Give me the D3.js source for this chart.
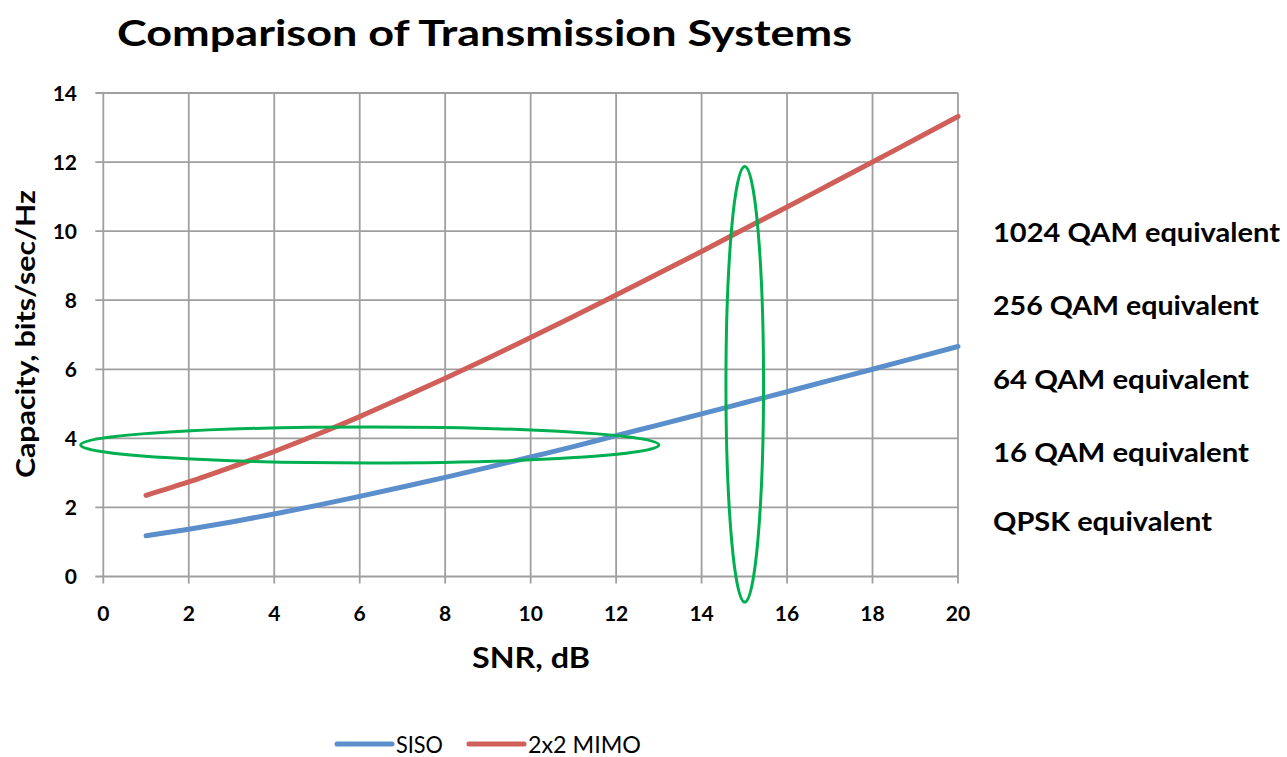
<!DOCTYPE html>
<html>
<head>
<meta charset="utf-8">
<script src="https://cdn.jsdelivr.net/npm/d3@7"></script>
<style>
  html, body { margin: 0; padding: 0; background: #fff; }
  svg { display: block; font-family: Lato, "Open Sans", sans-serif; }
</style>
</head>
<body>
<div id="chart"></div>
<script>
// values
var snr = [1, 2, 3, 4, 5, 6, 7, 8, 9, 10, 11, 12, 13, 14, 15, 16, 17, 18, 19, 20];
var siso = [1.18, 1.37, 1.58, 1.81, 2.06, 2.32, 2.59, 2.87, 3.16, 3.46, 3.76, 4.08, 4.39, 4.71, 5.03, 5.35, 5.68, 6.00, 6.33, 6.66];
var mimo = [2.35, 2.74, 3.17, 3.62, 4.11, 4.63, 5.18, 5.74, 6.32, 6.92, 7.53, 8.15, 8.78, 9.41, 10.06, 10.70, 11.35, 12.00, 12.66, 13.32];
var xTicks = [0, 2, 4, 6, 8, 10, 12, 14, 16, 18, 20];
var yTicks = [0, 2, 4, 6, 8, 10, 12, 14];
var seriesNames = ["SISO", "2x2 MIMO"];
var qamLabels = ["1024 QAM equivalent", "256 QAM equivalent", "64 QAM equivalent", "16 QAM equivalent", "QPSK equivalent"];
// highlighted regions (snr from/to, capacity from/to)
var rings = [
  { snr: [-0.53, 13.0], cap: [3.29, 4.33] },
  { snr: [14.57, 15.45], cap: [-0.74, 11.87] }
];

(function(){
  var W = 1287, H = 757;
  var colors = ["#5b8fcb", "#cf5f58"];
  var plot = { left: 103.3, right: 958, top: 93, bottom: 576.5 };

  var svg = d3.select("#chart").append("svg").attr("width", W).attr("height", H);

  var x = d3.scaleLinear().domain([0, 20]).range([plot.left, plot.right]);
  var y = d3.scaleLinear().domain([0, 14]).range([plot.bottom, plot.top]);

  // grid
  svg.append("g").selectAll("line").data(xTicks).enter().append("line")
    .attr("x1", function(d){ return x(d); }).attr("x2", function(d){ return x(d); })
    .attr("y1", plot.top).attr("y2", plot.bottom + 7)
    .attr("stroke", "#9f9f9f").attr("stroke-width", 1.8);
  svg.append("g").selectAll("line").data(yTicks).enter().append("line")
    .attr("x1", plot.left - 8).attr("x2", plot.right)
    .attr("y1", function(d){ return y(d); }).attr("y2", function(d){ return y(d); })
    .attr("stroke", "#9f9f9f").attr("stroke-width", 1.8);

  // tick labels
  svg.append("g").selectAll("text").data(yTicks).enter().append("text")
    .attr("x", 77).attr("y", function(d){ return y(d) + 7.5; })
    .attr("text-anchor", "end").attr("font-size", 21).attr("font-weight", "bold")
    .text(function(d){ return d; });
  svg.append("g").selectAll("text").data(xTicks).enter().append("text")
    .attr("x", function(d){ return x(d); }).attr("y", 620.5)
    .attr("text-anchor", "middle").attr("font-size", 21).attr("font-weight", "bold")
    .text(function(d){ return d; });

  // series
  var line = d3.line().curve(d3.curveMonotoneX)
    .x(function(d){ return x(d[0]); }).y(function(d){ return y(d[1]); });
  [siso, mimo].forEach(function(vals, i){
    svg.append("path").datum(d3.zip(snr, vals))
      .attr("d", line).attr("fill", "none")
      .attr("stroke", colors[i]).attr("stroke-width", 5)
      .attr("stroke-linecap", "round").attr("stroke-linejoin", "round");
  });

  // green rings
  svg.append("g").selectAll("ellipse").data(rings).enter().append("ellipse")
    .attr("cx", function(d){ return (x(d.snr[0]) + x(d.snr[1])) / 2; })
    .attr("cy", function(d){ return (y(d.cap[0]) + y(d.cap[1])) / 2; })
    .attr("rx", function(d){ return Math.abs(x(d.snr[1]) - x(d.snr[0])) / 2; })
    .attr("ry", function(d){ return Math.abs(y(d.cap[1]) - y(d.cap[0])) / 2; })
    .attr("fill", "none").attr("stroke", "#00b050").attr("stroke-width", 3);

  // title and axis titles
  svg.append("text").attr("x", 117).attr("y", 46)
    .attr("font-size", 37).attr("font-weight", "bold")
    .attr("textLength", 735).attr("lengthAdjust", "spacingAndGlyphs")
    .text("Comparison of Transmission Systems");
  svg.append("text").attr("x", 531).attr("y", 668)
    .attr("text-anchor", "middle").attr("font-size", 28).attr("font-weight", "bold")
    .attr("textLength", 118).attr("lengthAdjust", "spacingAndGlyphs")
    .text("SNR, dB");
  svg.append("text").attr("transform", "translate(35,334) rotate(-90)")
    .attr("text-anchor", "middle").attr("font-size", 27).attr("font-weight", "bold")
    .attr("textLength", 288).attr("lengthAdjust", "spacingAndGlyphs")
    .text("Capacity, bits/sec/Hz");

  // modulation labels on the right
  var qamWidths = [287, 266, 256, 256, 219];
  svg.append("g").selectAll("text").data(qamLabels).enter().append("text")
    .attr("x", 993).attr("y", function(d, i){ return i < 4 ? 242 + i * 73.3 : 531; })
    .attr("font-size", 27).attr("font-weight", "bold")
    .attr("textLength", function(d, i){ return qamWidths[i]; })
    .attr("lengthAdjust", "spacingAndGlyphs")
    .text(function(d){ return d; });

  // legend
  var legendX = [337, 469];
  var legendW = [47, 113];
  var leg = svg.append("g").selectAll("g").data(seriesNames).enter().append("g")
    .attr("transform", function(d, i){ return "translate(" + legendX[i] + ",744)"; });
  leg.append("line").attr("x1", 0).attr("x2", 55)
    .attr("stroke", function(d, i){ return colors[i]; })
    .attr("stroke-width", 5).attr("stroke-linecap", "round");
  leg.append("text").attr("x", 59).attr("y", 8.5)
    .attr("font-size", 23)
    .attr("textLength", function(d, i){ return legendW[i]; })
    .attr("lengthAdjust", "spacingAndGlyphs")
    .text(function(d){ return d; });
})();
</script>
</body>
</html>
